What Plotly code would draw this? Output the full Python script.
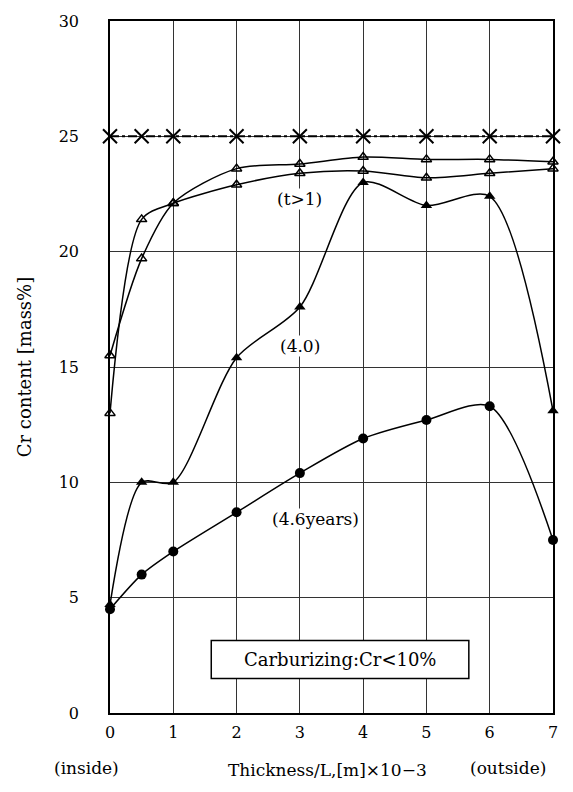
import plotly.graph_objects as go

# ---- data ----
x_pos = [0, 0.5, 1, 2, 3, 4, 5, 6, 7]
cr_initial = [25, 25, 25, 25, 25, 25, 25, 25, 25]
cr_t_gt1_a = [15.5, 19.7, 22.1, 23.6, 23.8, 24.1, 24.0, 24.0, 23.9]
cr_t_gt1_b = [13.0, 21.4, 22.1, 22.9, 23.4, 23.5, 23.2, 23.4, 23.6]
cr_4_0 = [4.7, 10.0, 10.0, 15.4, 17.6, 23.0, 22.0, 22.4, 13.1]
cr_4_6 = [4.5, 6.0, 7.0, 8.7, 10.4, 11.9, 12.7, 13.3, 7.5]
x_ticks = [0, 1, 2, 3, 4, 5, 6, 7]
y_ticks = [0, 5, 10, 15, 20, 25, 30]

FONT = "DejaVu Serif"
fig = go.Figure()

fig.add_trace(go.Scatter(
    x=x_pos, y=cr_initial, mode="lines+markers",
    line=dict(color="black", width=2, dash="dashdot"),
    marker=dict(symbol="x-thin", size=14, line=dict(color="black", width=2)),
    cliponaxis=False, showlegend=False))

for ys in (cr_t_gt1_a, cr_t_gt1_b):
    fig.add_trace(go.Scatter(
        x=x_pos, y=ys, mode="lines+markers",
        line=dict(color="black", width=1.5, shape="spline", smoothing=0.8),
        marker=dict(symbol="triangle-up-open", size=9, color="black",
                    line=dict(color="black", width=1.5)),
        cliponaxis=False, showlegend=False))

fig.add_trace(go.Scatter(
    x=x_pos, y=cr_4_0, mode="lines+markers",
    line=dict(color="black", width=1.5, shape="spline", smoothing=0.8),
    marker=dict(symbol="triangle-up", size=10, color="black"),
    cliponaxis=False, showlegend=False))

fig.add_trace(go.Scatter(
    x=x_pos, y=cr_4_6, mode="lines+markers",
    line=dict(color="black", width=1.5, shape="spline", smoothing=0.8),
    marker=dict(symbol="circle", size=10, color="black"),
    cliponaxis=False, showlegend=False))

# labels
lab_font = dict(family=FONT, size=17, color="black")
fig.add_annotation(x=3, y=22.3, text="(t>1)", showarrow=False, font=lab_font, bgcolor="white",
                   borderpad=0)
fig.add_annotation(x=3, y=15.9, text="(4.0)", showarrow=False, font=lab_font, bgcolor="white",
                   borderpad=0)
fig.add_annotation(x=3.25, y=8.4, text="(4.6years)", showarrow=False, font=lab_font, bgcolor="white",
                   borderpad=0)

fig.add_shape(type="rect", x0=1.6, x1=5.67, y0=1.5, y1=3.14, xref="x", yref="y",
              line=dict(color="black", width=1.5), fillcolor="white", layer="above")
fig.add_annotation(x=3.63, y=2.32, text="Carburizing:Cr&lt;10%", showarrow=False,
                   font=dict(family=FONT, size=18, color="black"))

# bottom texts
fig.add_annotation(xref="paper", yref="paper", x=-0.052, y=-0.080, text="(inside)",
                   showarrow=False, font=lab_font, xanchor="center", yanchor="middle")
fig.add_annotation(xref="paper", yref="paper", x=0.49, y=-0.082, text="Thickness/L,[m]×10−3",
                   showarrow=False, font=lab_font, xanchor="center", yanchor="middle")
fig.add_annotation(xref="paper", yref="paper", x=0.898, y=-0.080, text="(outside)",
                   showarrow=False, font=lab_font, xanchor="center", yanchor="middle")

fig.update_xaxes(range=[0, 7], tickvals=x_ticks, ticks="", showgrid=True,
                 gridcolor="#333", gridwidth=1.2, showline=True, linecolor="black",
                 linewidth=1.5, mirror=True, zeroline=False,
                 tickfont=dict(family=FONT, size=16, color="black"), ticklabelstandoff=4)
fig.update_yaxes(range=[0, 30], tickvals=y_ticks, ticks="", showgrid=True,
                 gridcolor="#333", gridwidth=1.2, showline=True, linecolor="black",
                 linewidth=1.5, mirror=True, zeroline=False,
                 tickfont=dict(family=FONT, size=16, color="black"), ticklabelstandoff=26,
                 title=dict(text="Cr content [mass%]", font=dict(family=FONT, size=18, color="black"),
                            standoff=22))

fig.update_layout(width=573, height=792, margin=dict(l=110, r=20, t=15, b=79),
                  plot_bgcolor="white", paper_bgcolor="white", showlegend=False)

fig.write_html("out.html")
